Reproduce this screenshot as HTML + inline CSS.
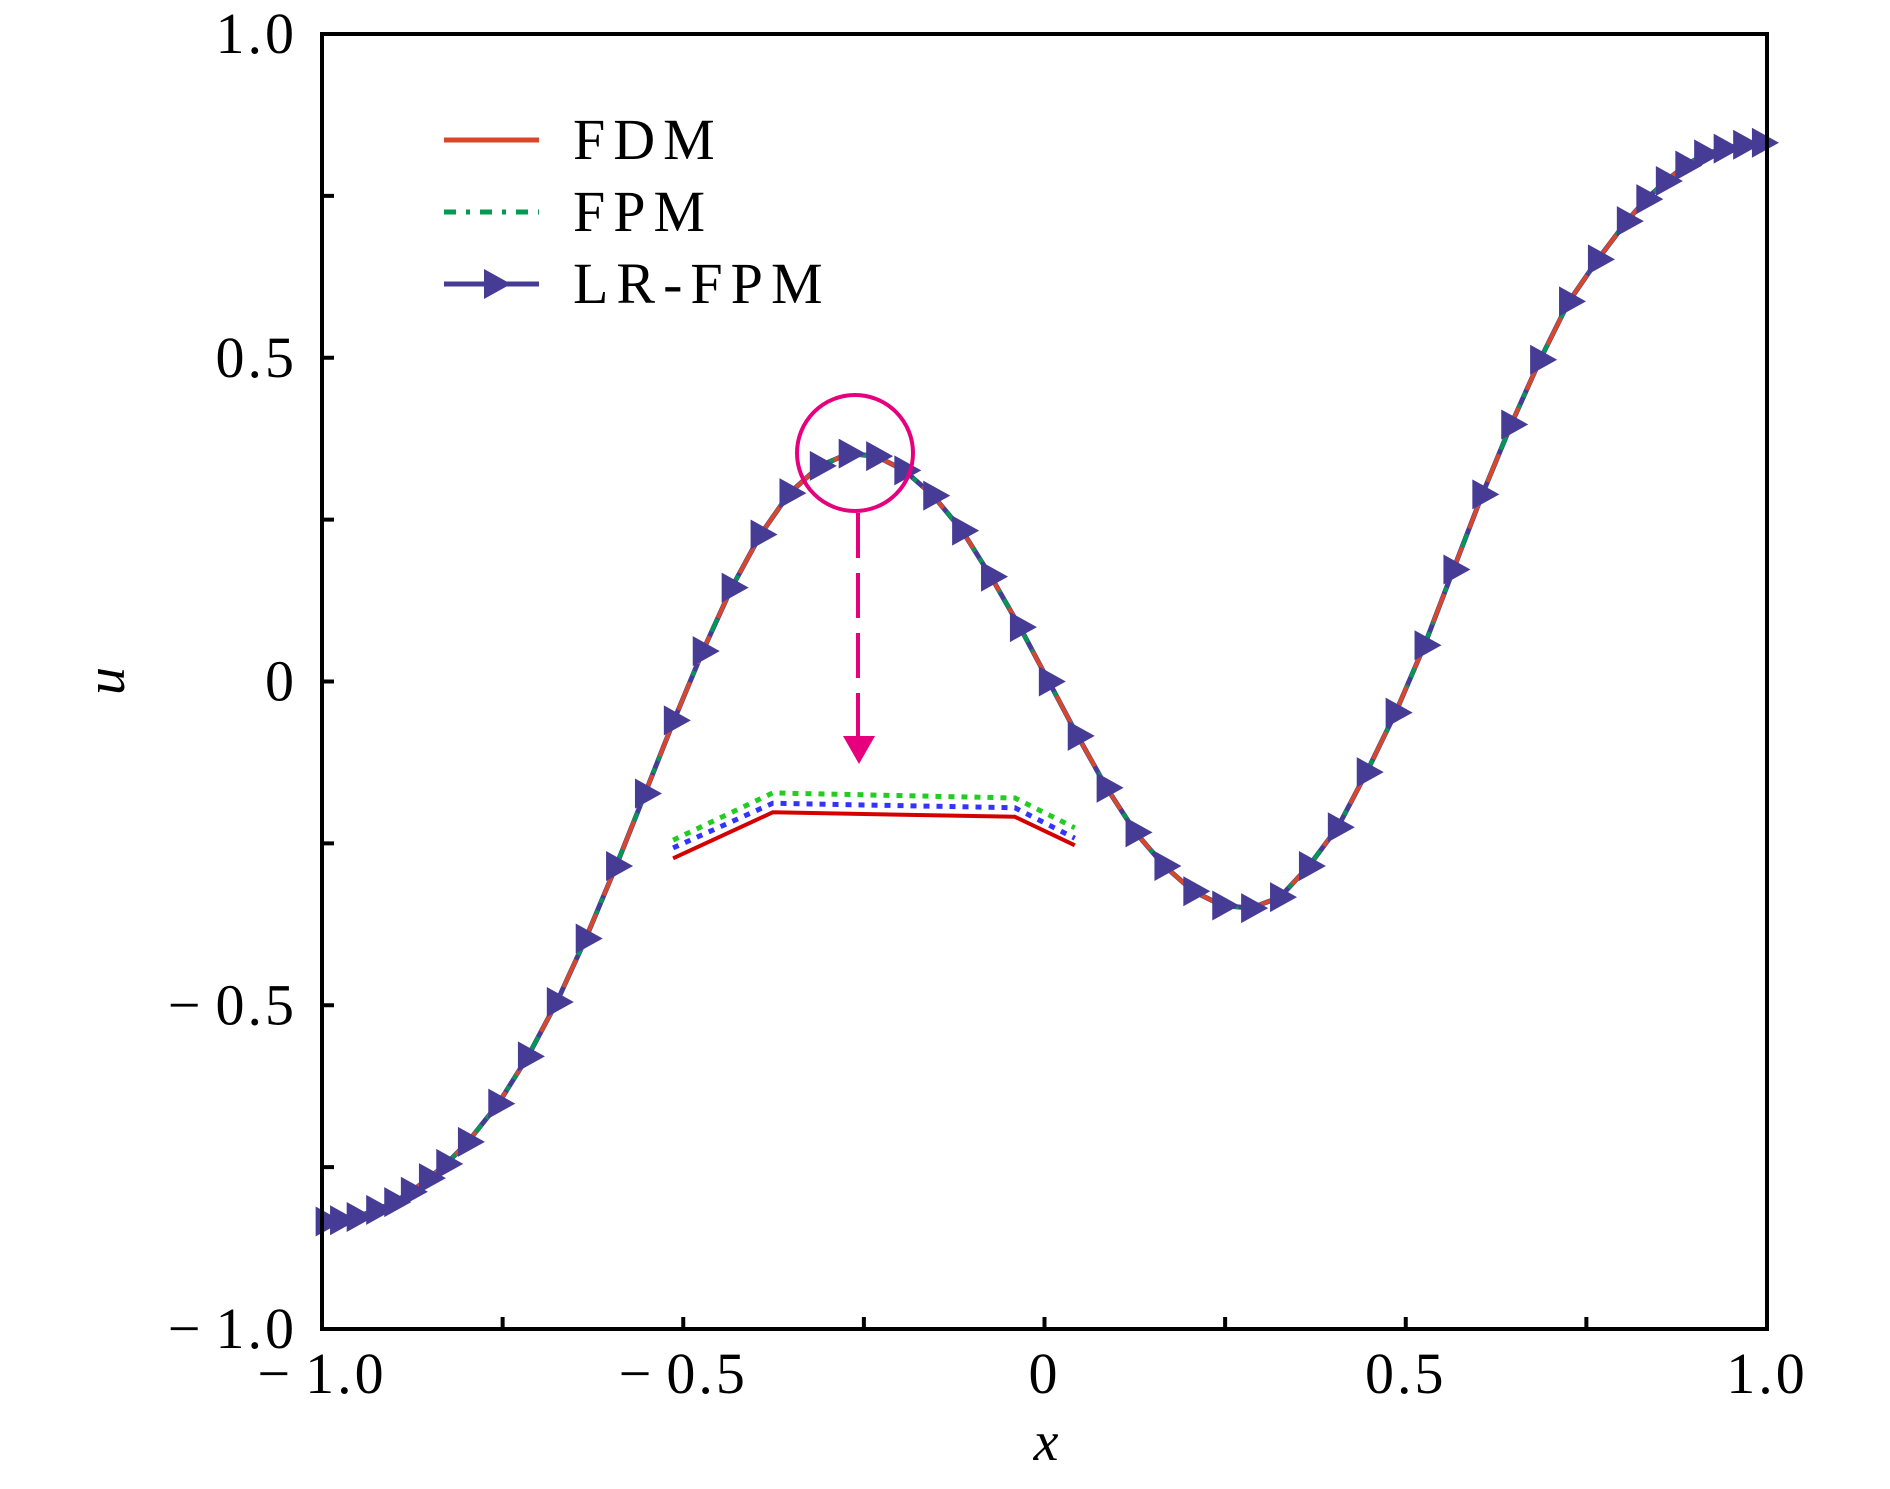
<!DOCTYPE html>
<html><head><meta charset="utf-8"><style>
html,body{margin:0;padding:0;background:#fff;}
svg{display:block;}
text{font-family:"Liberation Serif",serif;fill:#000;}
</style></head><body>
<svg id="chart" width="1890" height="1489" viewBox="0 0 1890 1489" xmlns="http://www.w3.org/2000/svg">
<rect x="0" y="0" width="1890" height="1489" fill="#fff"/>
<g id="series"></g>
<g id="inset"></g>
<g id="annot"></g>
<g id="axes"></g>
<g id="legend"></g>
<text x="1046" y="1460" font-size="56" font-style="italic" text-anchor="middle">x</text>
<text x="0" y="0" font-size="56" font-style="italic" text-anchor="middle" transform="translate(124,681) rotate(-90)">u</text>
</svg>
<script>
const xVals = [-0.995,-0.975,-0.952,-0.925,-0.900,-0.877,-0.852,-0.828,-0.798,-0.756,-0.715,-0.675,-0.635,-0.593,-0.553,-0.513,-0.473,-0.433,-0.393,-0.353,-0.311,-0.271,-0.233,-0.194,-0.154,-0.114,-0.074,-0.034,0.006,0.046,0.086,0.126,0.166,0.206,0.246,0.286,0.326,0.366,0.406,0.446,0.486,0.526,0.566,0.606,0.646,0.686,0.726,0.766,0.806,0.833,0.860,0.887,0.913,0.940,0.967,0.993];
const fdmVals = [-0.834,-0.832,-0.827,-0.816,-0.804,-0.788,-0.767,-0.745,-0.711,-0.652,-0.579,-0.495,-0.397,-0.285,-0.173,-0.060,0.047,0.145,0.227,0.291,0.333,0.352,0.348,0.326,0.287,0.233,0.162,0.084,0.000,-0.084,-0.164,-0.233,-0.285,-0.324,-0.346,-0.350,-0.333,-0.285,-0.225,-0.140,-0.048,0.056,0.173,0.289,0.397,0.497,0.587,0.652,0.711,0.745,0.773,0.797,0.814,0.823,0.829,0.832];
const fpmVals = [-0.834,-0.832,-0.827,-0.816,-0.804,-0.788,-0.767,-0.745,-0.711,-0.652,-0.579,-0.495,-0.397,-0.285,-0.173,-0.060,0.047,0.145,0.227,0.291,0.333,0.352,0.348,0.326,0.287,0.233,0.162,0.084,0.000,-0.084,-0.164,-0.233,-0.285,-0.324,-0.346,-0.350,-0.333,-0.285,-0.225,-0.140,-0.048,0.056,0.173,0.289,0.397,0.497,0.587,0.652,0.711,0.745,0.773,0.797,0.814,0.823,0.829,0.832];
const lrVals = [-0.834,-0.832,-0.827,-0.816,-0.804,-0.788,-0.767,-0.745,-0.711,-0.652,-0.579,-0.495,-0.397,-0.285,-0.173,-0.060,0.047,0.145,0.227,0.291,0.333,0.352,0.348,0.326,0.287,0.233,0.162,0.084,0.000,-0.084,-0.164,-0.233,-0.285,-0.324,-0.346,-0.350,-0.333,-0.285,-0.225,-0.140,-0.048,0.056,0.173,0.289,0.397,0.497,0.587,0.652,0.711,0.745,0.773,0.797,0.814,0.823,0.829,0.832];
const insetX = [-0.514,-0.376,-0.041,0.042];
const insetRed = [-0.273,-0.202,-0.209,-0.253];
const insetBlue = [-0.257,-0.188,-0.195,-0.242];
const insetGreen = [-0.245,-0.172,-0.180,-0.226];
const xTickVals = [-1,-0.75,-0.5,-0.25,0,0.25,0.5,0.75,1];
const xTickLabels = ["\u22121.0","","\u22120.5","","0","","0.5","","1.0"];
const yTickVals = [-1,-0.75,-0.5,-0.25,0,0.25,0.5,0.75,1];
const yTickLabels = ["\u22121.0","","\u22120.5","","0","","0.5","","1.0"];
const legendLabels = ["FDM","FPM","LR-FPM"];

const NS="http://www.w3.org/2000/svg";
const X0=322,X1=1767,Y0=34,Y1=1329;
function sx(v){return X0+(v+1)/2*(X1-X0);}
function sy(v){return Y1-(v+1)/2*(Y1-Y0);}
function mk(tag,attrs,parent){const e=document.createElementNS(NS,tag);for(const k in attrs)e.setAttribute(k,attrs[k]);parent.appendChild(e);return e;}
function pts(xs,ys){return xs.map((x,i)=>sx(x).toFixed(1)+","+sy(ys[i]).toFixed(1)).join(" ");}
function tickText(parent,x,y,anchor,label){
  const t=mk('text',{x:x,y:y,'font-size':58,'text-anchor':anchor,'letter-spacing':3},parent);
  if(label.charAt(0)==='\u2212'){
    const m=mk('tspan',{},t);m.textContent='\u2212';
    const r=mk('tspan',{dx:12},t);r.textContent=label.slice(1);
  } else t.textContent=label;
  return t;
}

const series=document.getElementById('series');
let l=mk('polyline',{points:pts(xVals,lrVals),fill:'none',stroke:'#463c96','stroke-width':5},series);


l=mk('polyline',{points:pts(xVals,fpmVals),fill:'none',stroke:'#009a50','stroke-width':4,'stroke-dasharray':'14 8 5 8'},series);


l=mk('polyline',{points:pts(xVals,fdmVals),fill:'none',stroke:'#d9472b','stroke-width':4,'stroke-dasharray':'30 20'},series);


xVals.forEach((x,i)=>{
  const cx=sx(x),cy=sy(lrVals[i]);
  const t=mk('polygon',{points:`${cx-10},${cy-15} ${cx+17},${cy} ${cx-10},${cy+15}`,fill:'#463c96'},series);
  
  
});

const inset=document.getElementById('inset');
l=mk('polyline',{points:pts(insetX,insetGreen),fill:'none',stroke:'#22cc22','stroke-width':5,'stroke-dasharray':'6 7'},inset);


l=mk('polyline',{points:pts(insetX,insetBlue),fill:'none',stroke:'#3333ff','stroke-width':5,'stroke-dasharray':'6 7'},inset);


l=mk('polyline',{points:pts(insetX,insetRed),fill:'none',stroke:'#d40000','stroke-width':4},inset);



const annot=document.getElementById('annot');
let a=mk('circle',{cx:855,cy:453,r:58,fill:'none',stroke:'#e6007e','stroke-width':4},annot);


a=mk('line',{x1:858,y1:513,x2:858,y2:740,stroke:'#e6007e','stroke-width':4,'stroke-dasharray':'45 15'},annot);


a=mk('polygon',{points:'843,736 875,736 859,764',fill:'#e6007e'},annot);



const axes=document.getElementById('axes');
let f=mk('rect',{x:X0,y:Y0,width:X1-X0,height:Y1-Y0,fill:'none',stroke:'#000','stroke-width':4},axes);


xTickVals.forEach((v,i)=>{
  const x=sx(v);
  if(i>0&&i<xTickVals.length-1){const t=mk('line',{x1:x,y1:Y1,x2:x,y2:Y1-12,stroke:'#000','stroke-width':4},axes);
  
  }
  if(xTickLabels[i]){const tx=tickText(axes,x,Y1+64,'middle',xTickLabels[i]);
  
  }
});
yTickVals.forEach((v,i)=>{
  const y=sy(v);
  if(i>0&&i<yTickVals.length-1){const t=mk('line',{x1:X0,y1:y,x2:X0+12,y2:y,stroke:'#000','stroke-width':4},axes);
  
  }
  if(yTickLabels[i]){const tx=tickText(axes,297,y+19,'end',yTickLabels[i]);
  
  }
});

const legend=document.getElementById('legend');
const ly=[140,212,284];
let e=mk('line',{x1:444,y1:ly[0],x2:539,y2:ly[0],stroke:'#d9472b','stroke-width':5},legend);


e=mk('line',{x1:444,y1:ly[1],x2:539,y2:ly[1],stroke:'#009a50','stroke-width':5,'stroke-dasharray':'12 10 4 10'},legend);


e=mk('line',{x1:444,y1:ly[2],x2:539,y2:ly[2],stroke:'#463c96','stroke-width':5},legend);


e=mk('polygon',{points:`484,${ly[2]-15} 511,${ly[2]} 484,${ly[2]+15}`,fill:'#463c96'},legend);


legendLabels.forEach((s,i)=>{
  const t=mk('text',{x:573,y:ly[i]+19,'font-size':58,'letter-spacing':8},legend);
  t.textContent=s;
  
  
});
</script>
</body></html>
